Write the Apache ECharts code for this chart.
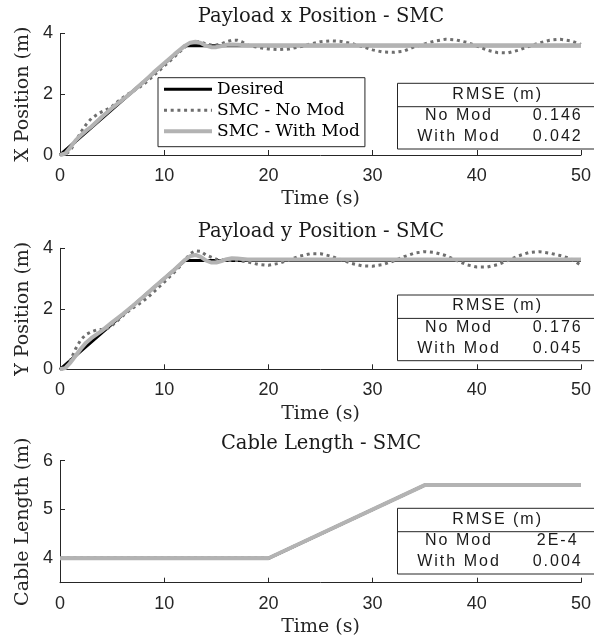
<!DOCTYPE html>
<html><head><meta charset="utf-8">
<script src="https://cdn.jsdelivr.net/npm/echarts@6/dist/echarts.min.js"></script>
<style>html,body{margin:0;padding:0;background:#fff}#c{width:594px;height:640px}</style>
</head><body><div id="c"></div>
<script>
// ---------- data ----------
const timeTicks = [0, 10, 20, 30, 40, 50];
const seriesNames = ['Desired', 'SMC - No Mod', 'SMC - With Mod'];

// Payload x position
const xDesiredT = [0, 12, 50];
const xDesiredV = [0, 3.6, 3.6];
const xNoModT = [0,0.5,1,1.5,2,2.5,3,3.5,4,4.5,5,5.5,6,6.5,7,7.5,8,8.5,9,9.5,10,10.5,11,11.5,12,12.5,13,13.5,14,14.5,15,15.5,16,16.5,17,17.5,
  18,19,20,21,22,23,24,25,26,27,28,29,30,31,32,33,34,35,36,37,38,39,40,41,42,43,44,45,46,47,48,49,50];
const xNoModV = [0,0.02,0.15,0.45,0.75,1.0,1.2,1.32,1.42,1.5,1.6,1.75,1.88,2.0,2.1,2.2,2.32,2.46,2.62,2.77,2.93,3.08,3.24,3.4,3.56,3.68,3.74,3.72,3.66,3.62,3.62,3.66,3.73,3.78,3.78,3.72,
  3.62,3.54,3.49,3.47,3.49,3.56,3.65,3.73,3.76,3.74,3.67,3.57,3.46,3.39,3.38,3.42,3.56,3.66,3.75,3.81,3.79,3.71,3.59,3.45,3.37,3.36,3.45,3.58,3.69,3.78,3.81,3.76,3.64];
const xWithModT = [0,0.5,1,1.5,2,2.5,3,4,5,6,7,8,9,10,11,12,12.5,13,13.5,14,14.5,15,15.5,16,16.5,17,18,50];
const xWithModV = [0,0.05,0.25,0.48,0.65,0.8,0.93,1.25,1.55,1.82,2.1,2.4,2.72,3.02,3.32,3.6,3.7,3.73,3.69,3.6,3.55,3.55,3.59,3.63,3.64,3.63,3.61,3.61];

// Payload y position
const yDesiredT = [0, 12, 50];
const yDesiredV = [0, 3.6, 3.6];
const yNoModT = [0,0.5,1,1.5,2,2.5,3,3.5,4,4.5,5,5.5,6,6.5,7,7.5,8,8.5,9,9.5,10,10.5,11,11.5,12,12.5,13,13.5,14,
  15,16,17,18,19,20,21,22,23,24,25,26,27,28,29,30,31,32,33,34,35,36,37,38,39,40,41,42,43,44,45,46,47,48,49,50];
const yNoModV = [0,0.02,0.3,0.68,0.98,1.15,1.24,1.3,1.32,1.34,1.45,1.6,1.76,1.9,2.03,2.14,2.26,2.4,2.56,2.72,2.88,3.05,3.22,3.4,3.62,3.82,3.92,3.9,3.78,
  3.64,3.6,3.6,3.55,3.47,3.44,3.5,3.62,3.74,3.82,3.82,3.74,3.62,3.5,3.42,3.41,3.46,3.58,3.72,3.84,3.89,3.86,3.76,3.61,3.46,3.38,3.38,3.46,3.6,3.75,3.86,3.89,3.84,3.76,3.66,3.44];
const yWithModT = [0,0.5,1,1.5,2,2.5,3,4,5,6,7,8,9,10,11,12,12.5,13,13.5,14,14.5,15,15.5,16,16.5,17,18,50];
const yWithModV = [0,0.04,0.22,0.45,0.68,0.88,1.03,1.27,1.55,1.82,2.1,2.4,2.7,3.0,3.3,3.62,3.74,3.78,3.72,3.6,3.53,3.53,3.58,3.64,3.67,3.66,3.63,3.63];

// Cable length
const lDesiredT = [0, 20, 35, 50];
const lDesiredV = [4, 4, 5.5, 5.5];
const lNoModT = [0, 20, 35, 50];
const lNoModV = [4, 4, 5.5, 5.5];
const lWithModT = [0, 20, 35, 50];
const lWithModV = [4, 4, 5.5, 5.5];

// RMSE tables
const rmseHeader = 'RMSE (m)';
const rmseRowLabels = ['No Mod', 'With Mod'];
const rmseXValues = ['0.146', '0.042'];
const rmseYValues = ['0.176', '0.045'];
const rmseLValues = ['2E-4', '0.004'];

const titles = ['Payload x Position - SMC', 'Payload y Position - SMC', 'Cable Length - SMC'];
const yNames = ['X Position (m)', 'Y Position (m)', 'Cable Length (m)'];

// ---------- rendering helpers ----------
// wider tracking for the table text (MATLAB-style spaced sans)
(function () {
  const P = CanvasRenderingContext2D.prototype;
  const orig = P.fillText;
  P.fillText = function (t, x, y, w) {
    if (this.font && this.font.indexOf('16.01px') >= 0 && 'letterSpacing' in this) {
      const prev = this.letterSpacing;
      this.letterSpacing = '2px';
      const r = (w === undefined) ? orig.call(this, t, x + 1, y) : orig.call(this, t, x + 1, y, w);
      this.letterSpacing = prev;
      return r;
    }
    return (w === undefined) ? orig.call(this, t, x, y) : orig.call(this, t, x, y, w);
  };
})();

const zip = (t, v) => t.map((x, i) => [x, v[i]]);
const AX = '#262626';
const SERIF = 'DejaVu Serif';
const SANS = 'Liberation Sans';

const grids = [
  {left: 60, top: 33.5, width: 521.5, height: 121.5},
  {left: 60, top: 248.3, width: 521.5, height: 121},
  {left: 60, top: 460.7, width: 521.5, height: 122}
];

function xAxisCfg(i) {
  return {
    gridIndex: i, type: 'value', min: 0, max: 50, interval: 10,
    axisLine: {show: true, lineStyle: {color: AX, width: 1}},
    axisTick: {show: true, inside: true, length: 5, lineStyle: {color: AX}},
    axisLabel: {margin: 12, fontSize: 18, fontFamily: SANS, color: AX},
    splitLine: {show: false},
    name: 'Time (s)', nameLocation: 'middle', nameGap: 35,
    nameTextStyle: {fontFamily: SERIF, fontSize: 19, color: AX}
  };
}
function yAxisCfg(i, min, max, interval, custom) {
  const a = {
    gridIndex: i, type: 'value', min: min, max: max,
    axisLine: {show: true, lineStyle: {color: AX, width: 1}},
    axisTick: {show: true, inside: true, length: 5, lineStyle: {color: AX}},
    axisLabel: {margin: 7, fontSize: 18, fontFamily: SANS, color: AX},
    splitLine: {show: false},
    name: yNames[i], nameLocation: 'middle', nameGap: 25,
    nameTextStyle: {fontFamily: SERIF, fontSize: 19, color: AX}
  };
  if (interval) a.interval = interval;
  if (custom) { a.axisTick.customValues = custom; a.axisLabel.customValues = custom; }
  return a;
}

function lineSeries(name, data, i) {
  const base = {name: name, type: 'line', data: data, xAxisIndex: i, yAxisIndex: i,
    symbol: 'none', showSymbol: false, animation: false, clip: true};
  if (name === 'Desired') {
    base.lineStyle = {color: '#000', width: 3}; base.itemStyle = {color: '#000'}; base.z = 2;
  } else if (name === 'SMC - No Mod') {
    base.lineStyle = {color: '#6e6e6e', width: 3, type: [3, 3.7], cap: 'butt'}; base.itemStyle = {color: '#6e6e6e'}; base.z = 3;
  } else {
    base.lineStyle = {color: '#b3b3b3', width: 4}; base.itemStyle = {color: '#b3b3b3'}; base.z = 4;
  }
  return base;
}

const tableTops = [83.3, 295, 508.3];
const tableValues = [rmseXValues, rmseYValues, rmseLValues];
const graphics = [];
tableTops.forEach((top, k) => {
  graphics.push({type: 'rect', shape: {x: 397.5, y: top, width: 220, height: 65.7},
    style: {fill: '#fff', stroke: AX, lineWidth: 1}, z: 100});
  graphics.push({type: 'line', shape: {x1: 397.5, y1: top + 23.4, x2: 600, y2: top + 23.4},
    style: {stroke: AX, lineWidth: 1}, z: 101});
  const ts = {fontFamily: SANS, fontSize: 16.01, fill: '#1a1a1a', textAlign: 'center', textVerticalAlign: 'middle'};
  graphics.push({type: 'text', x: 496.7, y: top + 11, style: Object.assign({text: rmseHeader}, ts), z: 102});
  rmseRowLabels.forEach((lab, r) => {
    graphics.push({type: 'text', x: 458, y: top + 32.4 + r * 21, style: Object.assign({text: lab}, ts), z: 102});
    graphics.push({type: 'text', x: 556.7, y: top + 32.4 + r * 21, style: Object.assign({text: tableValues[k][r]}, ts), z: 102});
  });
});

const titleTops = [7, 221.5, 433.5];
const option = {
  backgroundColor: '#fff',
  animation: false,
  title: titles.map((t, i) => ({text: t, left: 321, top: titleTops[i], textAlign: 'center', padding: 0,
    textStyle: {fontFamily: SERIF, fontSize: 19.5, fontWeight: 'normal', color: '#1a1a1a'}})),
  legend: {
    data: seriesNames, left: 158, top: 77.7, orient: 'vertical',
    itemWidth: 48, itemHeight: 14, itemGap: 4, padding: [3, 5, 7, 4],
    borderColor: AX, borderWidth: 1, backgroundColor: '#fff', selectedMode: false,
    itemStyle: {opacity: 0},
    lineStyle: {width: 'inherit'},
    textStyle: {fontFamily: SERIF, fontSize: 17, color: '#000', lineHeight: 17}
  },
  grid: grids,
  xAxis: [xAxisCfg(0), xAxisCfg(1), xAxisCfg(2)],
  yAxis: [yAxisCfg(0, 0, 4, 2), yAxisCfg(1, 0, 4, 2), yAxisCfg(2, 3.5, 6, null, [4, 5, 6])],
  series: [
    lineSeries(seriesNames[0], zip(xDesiredT, xDesiredV), 0),
    lineSeries(seriesNames[1], zip(xNoModT, xNoModV), 0),
    lineSeries(seriesNames[2], zip(xWithModT, xWithModV), 0),
    lineSeries(seriesNames[0], zip(yDesiredT, yDesiredV), 1),
    lineSeries(seriesNames[1], zip(yNoModT, yNoModV), 1),
    lineSeries(seriesNames[2], zip(yWithModT, yWithModV), 1),
    lineSeries(seriesNames[0], zip(lDesiredT, lDesiredV), 2),
    lineSeries(seriesNames[1], zip(lNoModT, lNoModV), 2),
    lineSeries(seriesNames[2], zip(lWithModT, lWithModV), 2)
  ],
  graphic: graphics
};
const chart = echarts.init(document.getElementById('c'), null, {renderer: 'canvas'});
chart.setOption(option);
</script>
</body></html>
